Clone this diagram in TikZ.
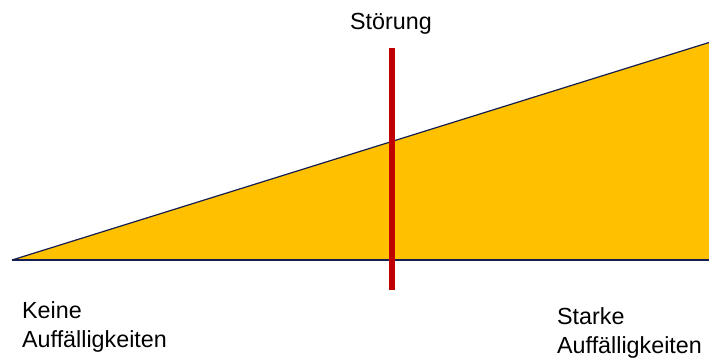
\documentclass[tikz,border=0pt]{standalone}
\usepackage{fontspec}
\setmainfont{Liberation Sans}
\usepackage{xcolor}
\usepackage{tikz}
\usetikzlibrary{positioning}

\definecolor{wedgeyellow}{RGB}{255,192,0}
\definecolor{wedgeline}{RGB}{20,30,80}
\definecolor{barred}{RGB}{192,0,0}

\begin{document}
\begin{tikzpicture}[
  x=1pt, y=-1pt,
  label/.style={font=\fontsize{23.3}{29}\selectfont, align=left, inner sep=0pt},
  edge/.style={draw=wedgeline, line width=1.2pt},
  bar/.style={draw=barred, line width=5.5pt}
]
  \useasboundingbox (0,0) rectangle (709,361);

  % wedge
  \coordinate (tip) at (12,260);
  \coordinate (topright) at (709,42.5);
  \coordinate (botright) at (709,260);
  \fill[wedgeyellow] (tip) -- (topright) -- (botright) -- cycle;
  \draw[edge] (tip) -- (topright);
  \draw[edge] (tip) -- (botright);

  % marker
  \coordinate (bartop) at (392,48);
  \coordinate (barbottom) at (392,289.5);
  \draw[bar] (bartop) -- (barbottom);

  \node[label, anchor=base] (stoerung) at (391,30) {Störung};
  \node[label, anchor=base west] (keine) at (22,347.5) {Keine\\Auffälligkeiten};
  \node[label, anchor=base west] (starke) at (557,353.5) {Starke\\Auffälligkeiten};
\end{tikzpicture}
\end{document}
